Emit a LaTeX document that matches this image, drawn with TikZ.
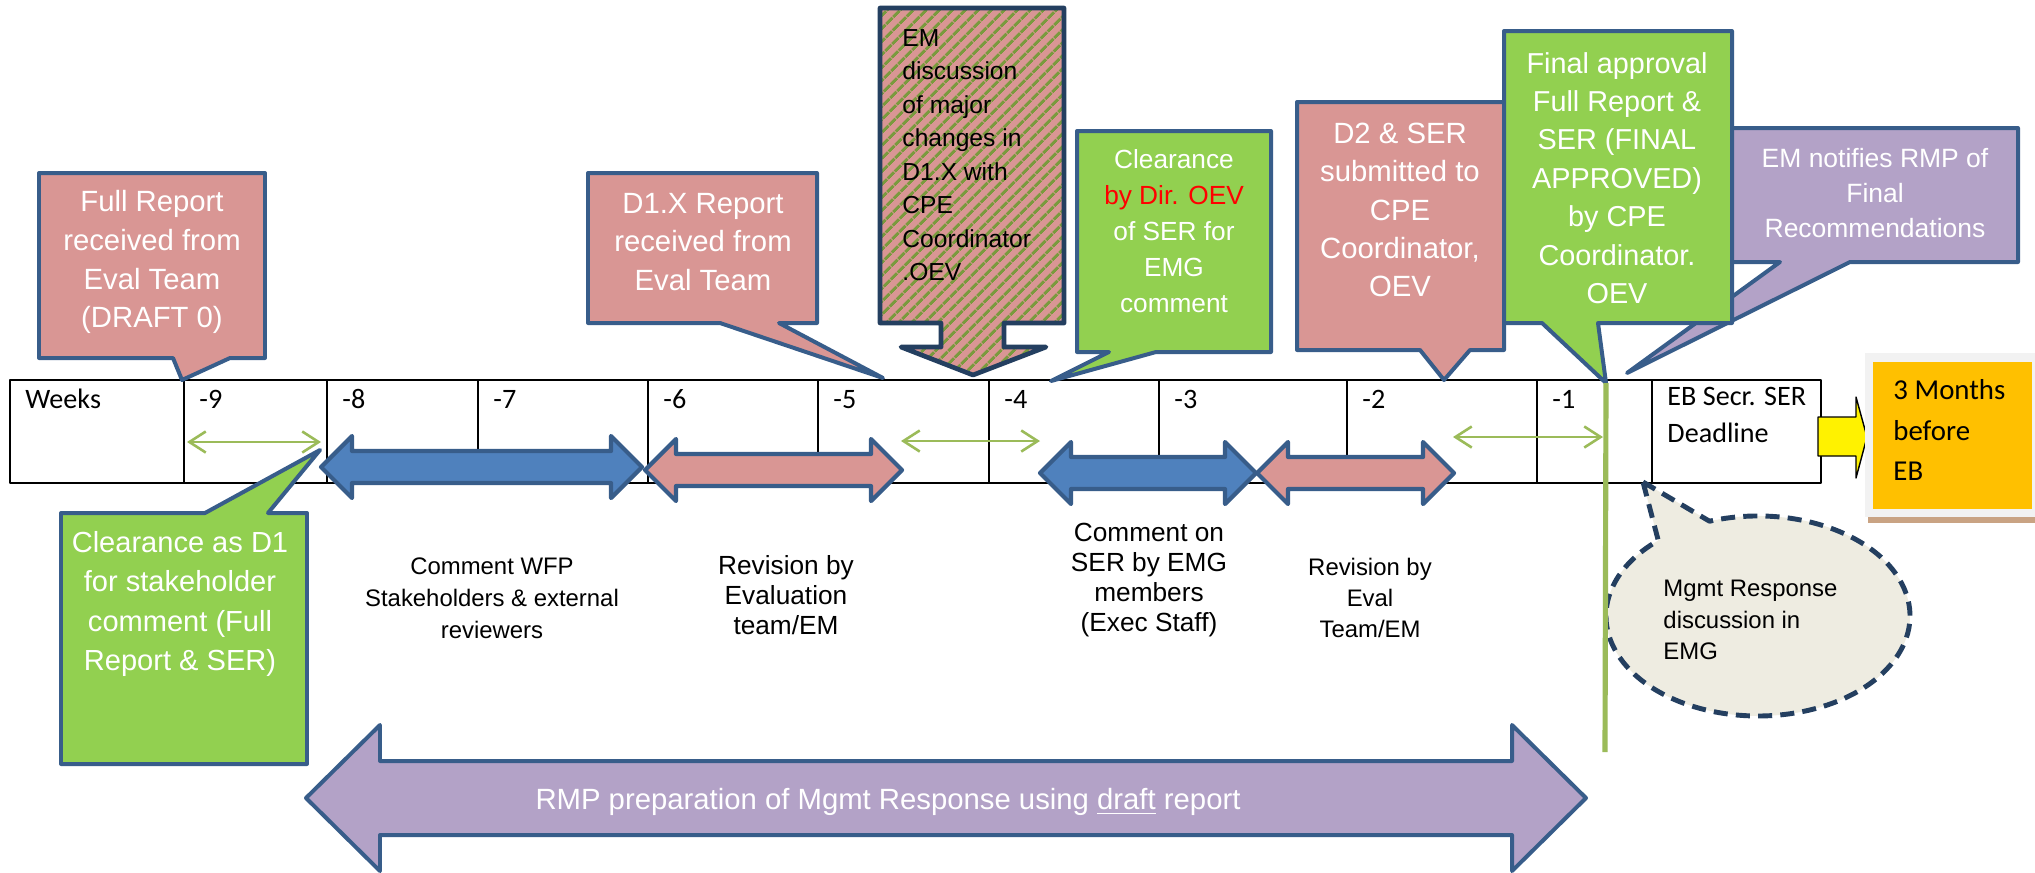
\documentclass[tikz,border=0pt]{standalone}
\usepackage{fontspec}
\setmainfont{Liberation Sans}
\newfontfamily\calibri{Carlito}
\usetikzlibrary{arrows.meta,patterns.meta}
\definecolor{callpink}{HTML}{D99694}
\definecolor{callgreen}{HTML}{92D050}
\definecolor{callpurple}{HTML}{B3A2C7}
\definecolor{calledge}{HTML}{385D8A}
\definecolor{darkedge}{HTML}{243F60}
\definecolor{barblue}{HTML}{4F81BD}
\definecolor{spangreen}{HTML}{9BBB59}
\definecolor{stripegreen}{HTML}{7A9A3E}
\definecolor{bubblefill}{HTML}{EEECE1}
\definecolor{ebgold}{HTML}{FFC000}
\definecolor{ebframe}{HTML}{F2F2F2}
\definecolor{ebshade}{HTML}{C9A383}
\begin{document}
\begin{tikzpicture}[x=0.015cm, y=-0.015cm, line join = round]
	\tikzstyle{callout}=[draw=calledge, line width=1.7pt]
	\tikzstyle{bar}=[draw=calledge, line width=1.8pt]
	\tikzstyle{txt}=[align=center, inner sep=0pt]
	\tikzstyle{calltxt}=[txt, text=white]
	\tikzstyle{wk}=[anchor=base west, inner sep=0pt, font=\calibri\fontsize{12}{15.8}\selectfont]
	\tikzstyle{span}=[spangreen, line width=1.1pt, arrows={Straight Barb[length=7pt,width=9pt]-Straight Barb[length=7pt,width=9pt]}]
	\path[use as bounding box, fill=white] (0,0) rectangle (2035,872);
	\draw[line width=1.1pt] (10,380) rectangle (1821,483);
	\foreach \x in {184,327,478,648,818,989,1159,1347,1537,1652} {\draw[line width=1.1pt] (\x,380) -- (\x,483);}
	\node[wk] (weeks) at (25,408) {Weeks};
	\foreach \w/\x in {9/184, 8/327, 7/478, 6/648, 5/818, 4/989, 3/1159, 2/1347, 1/1537} {\node[wk] (wk\w) at (\x+15,408) {-\w};}
	\node[wk, anchor=west, align=left] (ebsecr) at (1667,415) {EB Secr. SER\\Deadline};
	\foreach \n/\a/\b/\y in {1/187/321/442, 2/901/1040/441, 3/1453/1603/437} {\coordinate (spanL\n) at (\a,\y); \coordinate (spanR\n) at (\b,\y); \draw[span] (spanL\n) -- (spanR\n);}
	\foreach \xl/\xr/\c/\col in {321/642/467/barblue, 645/902/470/callpink, 1040/1256/473/barblue, 1257/1454/473/callpink} {\filldraw[bar, fill=\col] (\xl,\c) -- ++(31,-31) -- ++(0,15) -- ({\xr-31},{\c-16}) -- ++(0,-15) -- (\xr,\c) -- ++(-31,31) -- ++(0,-15) -- ({\xl+31},{\c+16}) -- ++(0,15) -- cycle;}
	\foreach \l/\t/\r/\b/\pl/\pr/\tx/\ty/\c in {39/173/265/358/173/230/182/380/callpink, 588/173/817/323/720/779/883/378/callpink, 1077/131/1271/352/1109/1156/1051/381/callgreen, 1297/102/1504/350/1420/1470/1444/380/callpink, 1700/128/2018/262/1780/1850/1627/373/callpurple, 1504/31/1732/323/1542/1598/1606/383/callgreen, 61/764/307/513/205/268/320/450/callgreen} {\filldraw[callout, fill=\c] (\l,\t) -- (\r,\t) -- (\r,\b) -- (\pr,\b) -- (\tx,\ty) -- (\pl,\b) -- (\l,\b) -- cycle;}
	\path[preaction={fill=callpink}, pattern={Lines[angle=45,distance=4pt,line width=1.4pt]}, pattern color=stripegreen, draw=darkedge, line width=2pt] (880,8) -- (1064,8) -- (1064,323) -- (1004,323) -- (1004,347) -- (1046,347) -- (973,375) -- (901,347) -- (941,347) -- (941,323) -- (880,323) -- cycle;
	\node[calltxt, font=\fontsize{12.5}{16.6}\selectfont] (fullrep) at (152,262) {Full Report\\received from\\Eval Team\\(DRAFT 0)};
	\node[calltxt, font=\fontsize{12.5}{16.4}\selectfont] (dxrep) at (703,242) {D1.X Report\\received from\\Eval Team};
	\node[txt, anchor=west, align=left, font=\fontsize{10.5}{14.3}\selectfont] (emdisc) at (902,155) {EM\\discussion\\of major\\changes in\\D1.X with\\CPE\\Coordinator\\.OEV};
	\node[calltxt, font=\fontsize{11.2}{15.3}\selectfont] (clrdir) at (1174,231) {Clearance\\\textcolor{red}{by Dir. OEV}\\of SER for\\EMG\\comment};
	\node[calltxt, font=\fontsize{12.5}{16.4}\selectfont] (dtwo) at (1400,210) {D2 \& SER\\submitted to\\CPE\\Coordinator,\\OEV};
	\node[calltxt, font=\fontsize{12.3}{16.4}\selectfont] (final) at (1617,178) {Final approval\\Full Report \&\\SER (FINAL\\APPROVED)\\by CPE\\Coordinator.\\OEV};
	\node[calltxt, font=\fontsize{11.3}{14.9}\selectfont] (notify) at (1875,193) {EM notifies RMP of\\Final\\Recommendations};
	\node[calltxt, font=\fontsize{12.4}{16.8}\selectfont] (clrdone) at (180,604) {Clearance as D1\\for stakeholder\\comment (Full\\Report \& SER)};
	\node[txt, font=\fontsize{10.2}{13.7}\selectfont] (cmtwfp) at (492,598) {Comment WFP\\Stakeholders \& external\\reviewers};
	\node[txt, font=\fontsize{11.2}{12.8}\selectfont] (reveval) at (786,595) {Revision by\\Evaluation\\team/EM};
	\node[txt, font=\fontsize{11.2}{12.8}\selectfont] (cmtser) at (1149,580) {Comment on\\SER by EMG\\members\\(Exec Staff)};
	\node[txt, font=\fontsize{10.2}{13.2}\selectfont] (revteam) at (1370,598) {Revision by\\Eval\\Team/EM};
	\filldraw[fill=bubblefill, draw=darkedge, line width=2.1pt, dash pattern=on 6pt off 3.5pt] (1643,482) -- (1709.5,521.2) arc[start angle=251.4, end angle=589, x radius=152, y radius=100] -- cycle;
	\node[txt, anchor=west, align=left, font=\fontsize{10.2}{13.4}\selectfont] (mgmt) at (1663,620) {Mgmt Response\\discussion in\\EMG};
	\coordinate (finaltip) at (1606,383);
	\coordinate (finalfoot) at (1605,752);
	\draw[spangreen, line width=2.2pt] (finaltip) -- (finalfoot);
	\filldraw[callout, fill=callpurple] (306,798) -- (380,725) -- (380,761) -- (1512,761) -- (1512,725) -- (1586,798) -- (1512,871) -- (1512,835) -- (380,835) -- (380,871) -- cycle;
	\node[calltxt, font=\fontsize{12.5}{15}\selectfont] (rmp) at (888,802) {RMP preparation of Mgmt Response using \underline{draft} report};
	\filldraw[fill=yellow, draw=black, line width=0.6pt] (1818,417) -- (1856,417) -- (1856,397) -- (1867,437) -- (1856,478) -- (1856,456) -- (1818,456) -- cycle;
	\fill[ebshade] (1868,514) rectangle (2035,523);
	\fill[ebframe] (1865,353) rectangle (2035,517);
	\fill[ebgold] (1873,362) rectangle (2032,509);
	\node[txt, anchor=west, align=left, font=\calibri\fontsize{12.3}{17.3}\selectfont] (threemo) at (1893,430) {3 Months\\before\\EB};
\end{tikzpicture}
\end{document}
